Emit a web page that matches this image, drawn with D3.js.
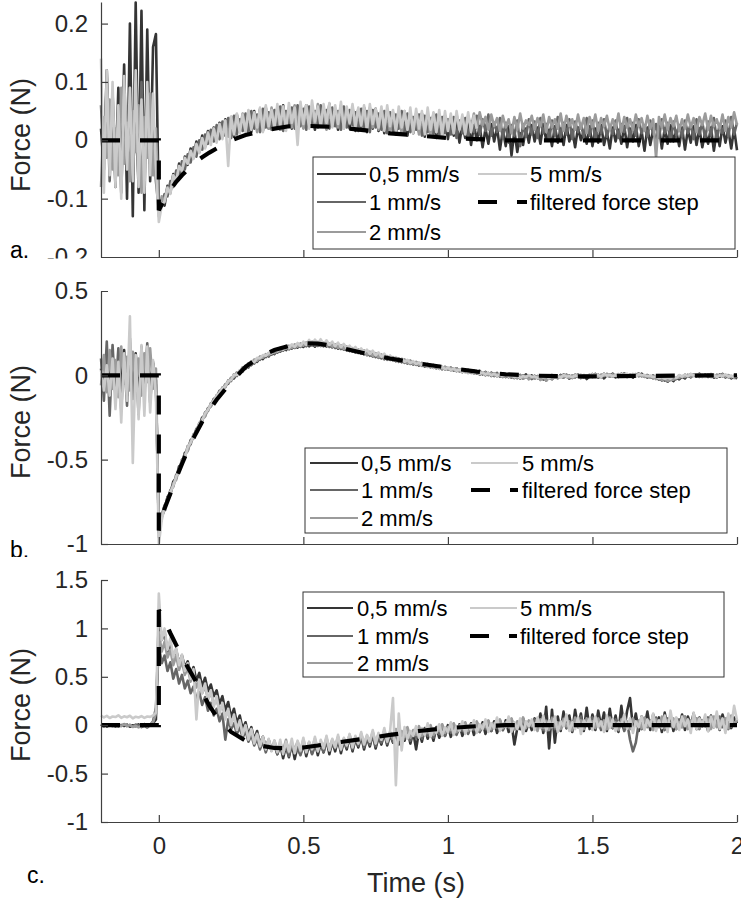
<!DOCTYPE html>
<html><head><meta charset="utf-8">
<script src="https://cdn.jsdelivr.net/npm/d3@7/dist/d3.min.js"></script>
<style>html,body{margin:0;padding:0;background:#fff;} svg{display:block;}</style>
</head><body><svg id="chart" width="741" height="899"></svg>
<script>
// ---------- DATA (forces in mN, sampled every 0.01 s from -0.2 s) ----------
const seriesNames = ["0,5 mm/s", "1 mm/s", "2 mm/s", "5 mm/s"];
const filterName = "filtered force step";
const tStart = -0.2, tStep = 0.01;
const xTicks = [0, 0.5, 1, 1.5, 2];
const xTickLabels = ["0", "0.5", "1", "1.5", "2"];
const yTicksA = [-0.2, -0.1, 0, 0.1, 0.2];
const yTickLabelsA = ["-0.2", "-0.1", "0", "0.1", "0.2"];
const yTicksB = [-1, -0.5, 0, 0.5];
const yTickLabelsB = ["-1", "-0.5", "0", "0.5"];
const yTicksC = [-1, -0.5, 0, 0.5, 1, 1.5];
const yTickLabelsC = ["-1", "-0.5", "0", "0.5", "1", "1.5"];
const panelLetters = ["a.", "b.", "c."];

// Panel a
const a05 = [20,-50,120,-30,60,-80,90,-60,130,-100,200,-130,236,-90,222,-120,190,-70,160,182,
-125,
-100,-112,-78,-90,-58,-72,-40,-56,-28,
-42,-14,-30,-2,-20,8,-10,16,-2,22,
4,30,8,36,12,40,6,44,14,40,
18,48,14,50,22,52,16,56,20,48,
24,56,18,60,26,50,20,58,28,54,
22,60,26,52,18,58,28,56,20,62,
24,54,18,58,26,50,20,56,16,52,
22,56,14,50,20,54,16,48,12,52,
18,46,10,50,16,44,8,48,12,42,
14,46,6,40,12,44,4,38,10,42,
2,36,8,30,-4,28,4,32,-8,26,
0,24,-12,20,-6,28,-2,22,-16,18,
-10,24,-26,16,-20,12,-8,20,-4,26,
-2,22,-6,28,0,18,-10,24,-4,20,
-8,26,-2,18,-12,22,0,16,-6,24,
-10,20,-4,26,-8,14,-14,22,-2,18,
-6,24,-12,20,-2,26,-10,16,-18,22,
-8,18,-4,24,-14,20,-6,26,-2,16,
-10,22,-16,18,-4,24,-8,20,-12,14,
-6,22,-18,16,-10,24,-4,18,-14,20,
-17];
const a1 = [60,-40,100,-70,80,-30,50,-90,70,-20,90,-60,40,-80,100,-50,60,-40,30,-70,
-120,
-108,-92,-96,-70,-80,-52,-64,-36,-50,
-24,-38,-12,-28,0,-16,10,-6,18,-2,
26,2,32,8,38,4,42,10,36,16,
46,12,50,20,44,14,54,22,48,18,
52,24,58,16,50,26,56,20,60,24,
54,18,58,28,50,22,60,26,52,20,
56,24,50,18,58,22,52,26,48,16,
54,20,50,14,52,22,46,18,50,12,
48,16,44,20,50,10,46,14,40,18,
44,8,42,14,38,10,44,6,40,12,
36,10,40,4,34,12,38,6,32,14,
42,10,36,16,44,8,30,14,38,4,
30,-4,26,8,34,-10,28,6,36,10,
32,4,38,12,28,0,34,8,40,6,
30,10,36,2,32,14,28,6,38,8,
34,0,30,12,36,6,26,10,34,4,
28,14,38,2,30,8,36,12,26,6,
34,10,28,4,36,12,30,-2,32,8,
26,6,34,12,28,2,36,10,30,4,
32,8,38,0,28,12,34,6,40,10,
30];
const a2 = [-80,40,-30,70,-50,20,-60,90,-40,30,-70,50,-20,60,-90,40,-30,80,-60,20,
-130,
-96,-106,-80,-86,-60,-70,-44,-54,-34,
-40,-20,-30,-8,-18,2,-12,14,-2,20,
4,28,10,34,6,40,14,38,18,46,
16,50,22,46,14,54,24,50,20,56,
26,52,18,58,28,54,22,60,26,56,
20,60,28,54,24,62,26,56,18,58,
26,54,22,60,20,52,28,56,18,54,
24,50,16,56,22,48,18,52,20,50,
14,48,20,44,12,50,18,42,16,46,
10,44,16,40,8,46,14,38,12,42,
18,40,12,44,20,36,14,42,22,46,
20,48,26,40,18,44,24,38,16,42,
22,36,12,40,18,46,20,34,26,42,
18,38,24,44,14,40,22,36,20,46,
16,42,24,36,18,44,20,38,12,40,
22,44,16,38,24,42,18,36,20,46,
14,40,22,36,18,44,24,38,16,42,
20,36,-30,40,22,44,18,38,24,42,
16,36,20,44,22,38,14,40,26,46,
18,42,24,36,20,44,16,40,22,48,
26];
const a5 = [140,-90,120,-60,100,-80,60,-100,110,-50,90,-70,120,-80,70,-90,100,-60,80,-50,
-140,
-112,-104,-82,-92,-60,-70,-44,-52,-30,
-40,-18,-32,-6,-22,4,-14,12,-8,20,
-4,28,2,34,-44,40,10,46,12,44,
14,52,18,48,22,56,14,60,24,52,
20,62,26,58,16,64,30,56,-8,66,
28,60,20,68,32,58,24,62,30,64,
22,60,28,66,20,58,30,62,24,56,
26,60,18,62,28,54,22,58,16,60,
24,52,14,58,22,50,18,56,12,54,
20,50,10,56,18,48,14,52,8,50,
16,46,12,50,18,44,10,48,14,42,
20];

// Panel b
const b05 = [40,-80,120,-60,90,-110,60,-40,150,-120,80,-70,130,-90,50,-100,110,-60,70,-30,
-930,
-840,-795,-720,-700,-630,-610,-540,-525,-460,
-445,-385,-370,-318,-300,-250,-240,-195,-182,-140,
-132,-92,-90,-55,-50,-16,-18,14,10,44,
38,68,60,90,80,106,96,122,112,136,
126,150,140,162,150,170,158,176,164,182,
168,188,172,190,170,192,174,188,170,186,
166,180,158,174,152,168,144,160,136,150,
128,144,120,136,112,128,104,120,96,110,
92,104,84,98,78,92,70,86,64,78,
58,72,52,66,48,60,42,54,36,50,
34,46,28,42,24,36,20,32,14,28,
10,26,6,20,2,16,-4,14,-8,10,
-10,8,-14,4,-16,2,-20,6,-12,0,
-18,-4,-24,-8,-30,-10,-22,-2,-16,2,
-14,4,-20,-2,-12,6,-16,0,-22,-4,
-10,8,-14,2,-18,4,-8,10,-12,0,
-6,12,-10,4,-14,6,-4,10,-8,2,
-12,0,-20,-8,-30,-16,-38,-20,-34,-14,
-24,-6,-18,2,-12,6,-8,10,-6,4,
-10,6,-14,2,-8,8,-12,0,-18,-6,
-20];
const b1 = [100,-150,200,-240,180,-120,160,-200,120,-180,220,-140,100,-230,170,-110,190,-160,80,-60,
-900,
-830,-770,-745,-680,-660,-590,-570,-500,-485,
-420,-410,-350,-340,-282,-272,-220,-212,-165,-160,
-118,-112,-72,-70,-30,-34,6,-4,28,22,
56,46,80,70,100,92,116,108,130,122,
146,134,158,146,168,154,174,162,180,168,
188,172,194,176,196,174,192,172,190,168,
182,162,176,156,170,148,162,140,154,132,
146,124,138,116,130,108,122,100,114,92,
106,88,100,80,94,74,88,68,80,62,
74,56,68,50,62,44,56,38,50,34,
44,30,40,24,36,18,30,14,26,10,
22,4,18,0,14,-4,12,-6,8,-10,
6,-12,4,-16,2,-20,0,-14,-4,-22,
-2,-18,-8,-26,-4,-20,2,-14,-6,-12,
6,-10,0,-16,4,-8,2,-14,-2,-10,
8,-6,4,-12,10,-4,6,-8,2,-10,
10,-2,4,-8,8,-4,12,-6,0,-14,
-4,-18,-10,-26,-14,-32,-20,-28,-10,-22,
0,-12,4,-8,8,-4,6,-10,2,-8,
4,-10,0,-14,6,-6,2,-12,-4,-16,
-8];
const b2 = [-60,120,-100,150,-80,90,-130,170,-50,110,-90,140,-70,100,-120,130,-40,160,-80,40,
-960,
-820,-800,-725,-710,-640,-620,-550,-530,-470,
-450,-390,-375,-320,-305,-258,-245,-198,-186,-145,
-135,-95,-88,-52,-46,-14,-10,18,20,48,
46,72,66,94,86,112,104,126,118,140,
132,154,144,166,156,176,162,184,170,190,
176,196,180,200,178,198,176,194,174,190,
170,184,162,178,154,170,146,162,138,154,
130,148,122,140,114,132,106,124,98,114,
94,108,86,100,80,94,72,88,66,80,
60,74,54,68,48,62,42,56,38,50,
34,46,30,42,24,36,20,30,16,26,
12,22,8,18,2,14,-2,10,-6,6,
-8,4,-12,2,-16,0,-20,-4,-24,-8,
-20,-4,-28,-10,-32,-14,-24,-6,-18,-2,
-12,4,-16,0,-10,6,-14,2,-8,4,
-6,8,-10,4,-4,10,-8,6,-2,8,
-4,10,-8,6,-2,8,-6,4,-10,0,
-14,-2,-22,-10,-28,-18,-34,-24,-26,-12,
-16,-4,-10,2,-8,6,-4,8,-10,0,
-6,8,-10,4,-4,6,-8,2,-12,-2,
-10];
const b5 = [30,-90,60,-120,100,-200,80,-280,130,-150,350,-520,120,-260,180,-240,170,-220,90,-120,
-1000,
-860,-780,-740,-690,-655,-600,-565,-505,-490,
-425,-400,-355,-335,-285,-268,-225,-205,-170,-150,
-120,-104,-76,-66,-34,-28,4,2,30,30,
58,56,84,78,104,100,120,116,134,130,
150,142,164,152,176,160,184,168,192,174,
200,180,210,184,212,186,214,182,208,180,
200,172,194,166,186,160,176,152,168,142,
160,134,152,126,146,118,136,110,128,104,
118,96,108,88,100,80,92,72,84,66,
76,60,70,52,64,46,58,40,52,36,
46,32,40,26,36,20,30,16,26,12,
22,8,18,4,14,0,10,-4,8,-6,
4,-8,2,-12,0,-16,-4,-12,2,-10,
-6,-16,-2,-12,-8,-18,0,-10,-4,-14,
2,-8,-4,-12,0,-6,4,-10,-2,-8,
6,-4,2,-10,8,-2,4,-6,0,-8,
6,-2,10,-4,4,-8,8,0,2,-6,
-2,-12,-6,-18,-10,-22,-14,-20,-6,-16,
2,-8,4,-6,8,-2,6,-4,0,-10,
2,-6,4,-10,0,-4,6,-8,-2,-12,
-6];

// Panel c
const c05 = [-10,8,-14,4,-6,10,-12,2,-8,6,-16,0,-10,8,-4,12,-8,4,20,60,
1120,
880,960,760,840,700,780,640,720,600,
660,520,600,460,540,400,490,350,420,300,
360,220,300,150,240,80,170,20,100,-40,
30,-100,-20,-150,-60,-190,-120,-230,-150,-260,
-180,-300,-200,-340,-210,-330,-190,-350,-220,-300,
-170,-320,-200,-290,-160,-310,-190,-280,-150,-300,
-170,-270,-140,-290,-160,-250,-120,-270,-140,-230,
-110,-250,-130,-220,-90,-240,-120,-200,-80,-210,
-100,-180,-60,-200,-90,-160,-40,-190,-70,-250,
-60,-170,-30,-140,-50,-160,-20,-130,-60,-110,
0,-120,-30,-90,10,-110,-20,-80,20,-100,
-10,-70,30,-90,0,-60,40,-80,10,-50,
50,-70,20,-200,-30,-40,60,-60,30,-50,
70,-40,120,-80,190,-240,160,-180,90,-60,
140,-30,100,-70,160,-20,120,-60,180,-40,
110,-50,150,-10,130,-60,170,-30,100,-70,
200,-40,150,280,-30,120,-60,90,-20,140,
-50,110,-10,80,-70,130,-30,100,-60,70,
-20,110,-50,90,0,120,-40,80,-10,60,
-60,100,-20,70,-50,110,0,90,-30,80,
20];
const c1 = [6,-12,10,-6,2,-16,8,-4,12,-10,4,-14,6,-2,-20,-8,-24,2,40,180,
820,
640,720,560,650,480,580,430,520,380,
460,330,400,270,340,210,290,150,230,100,
170,40,120,-150,60,-40,20,-90,-20,-130,
-60,-170,-100,-210,-140,-250,-170,-280,-190,-260,
-210,-300,-190,-280,-230,-320,-200,-290,-240,-310,
-210,-290,-180,-300,-220,-270,-190,-280,-160,-260,
-190,-240,-150,-260,-170,-230,-130,-250,-150,-210,
-110,-230,-140,-200,-100,-220,-120,-180,-80,-190,
-90,-170,-60,-150,-100,-140,-40,-160,-70,-130,
-30,-140,-60,-110,-20,-130,-50,-90,0,-110,
-30,-80,10,-100,-20,-60,20,-90,-10,-50,
30,-70,0,-40,40,-60,10,-30,50,-50,
20,-20,60,-40,30,-10,70,-30,40,0,
60,-30,30,-50,50,-20,80,-40,20,-10,
70,-30,40,-60,60,-10,90,-40,30,0,
80,-20,50,-50,40,0,70,-30,60,-10,
40,-60,30,-150,-270,-180,20,-40,60,-20,
50,-30,80,-10,40,-50,70,0,30,-40,
60,-20,90,-30,40,10,70,-40,50,-10,
80,-30,60,0,90,-20,50,-40,70,10,
40];
const c2 = [-4,10,-8,2,-12,6,0,-10,8,-6,2,-18,-6,-22,-10,4,-12,10,30,120,
960,
760,860,700,780,620,720,570,660,520,
590,450,530,390,460,330,400,270,340,210,
270,150,200,90,140,30,80,-20,30,-70,
-10,-120,-50,-160,-90,-200,-120,-230,-150,-250,
-160,-270,-180,-260,-150,-280,-190,-250,-170,-270,
-150,-260,-180,-240,-140,-250,-170,-230,-130,-240,
-150,-220,-120,-230,-140,-200,-100,-210,-120,-180,
-90,-190,-110,-170,-70,-180,-90,-150,-60,-160,
-70,-140,-40,-150,-60,-120,-20,-130,-50,-100,
-10,-110,-40,-80,0,-100,-30,-60,10,-80,
-20,-50,20,-70,0,-40,30,-60,10,-30,
40,-50,10,-20,50,-40,20,-10,60,-30,
30,-20,70,-40,40,0,80,-30,50,-10,
20,-60,60,-30,40,-50,70,-20,30,-40,
60,-10,40,-50,80,-20,50,-40,70,0,
40,-30,70,-10,50,-40,80,-20,30,-50,
60,-20,40,-40,70,0,50,-30,80,-10,
40,-50,60,-20,90,-30,50,-10,70,-40,
30,-20,80,-40,50,0,70,-30,40,-10,
60,-40,90,-20,50,10,70,-30,100,0,
60];
const c5 = [100,80,96,74,90,84,102,76,92,82,98,70,88,80,94,76,90,86,100,130,
1360,
880,1000,780,900,700,800,620,730,560,
640,480,580,60,470,330,430,260,360,190,
300,120,230,60,170,0,110,-50,50,-100,
0,-150,-40,-190,-90,-220,-120,-250,-140,-270,
-160,-280,-150,-300,-170,-270,-140,-290,-160,-260,
-130,-280,-170,-250,-120,-270,-150,-240,-110,-260,
-140,-230,-100,-250,-130,-210,-90,-230,-110,-190,
-70,-200,-100,-170,-50,-190,-80,-150,-30,-170,
-60,280,-620,120,-260,-20,-140,-60,-110,-10,
-130,-30,-100,20,-120,-40,-80,10,-110,-20,
-70,30,-100,-10,-60,40,-90,0,-50,50,
-80,10,-40,60,-70,20,-30,80,-60,0,
-20,90,-70,30,-40,70,-90,40,-10,60,
-50,80,-30,100,-60,50,-20,90,-70,40,
-10,110,-60,30,-40,80,-90,50,0,70,
-50,90,-20,40,-70,100,-30,60,-60,30,
0,110,-40,70,-80,40,-20,90,-50,60,
-10,120,-60,50,-30,100,-70,150,-20,80,
-50,90,-10,60,-80,130,-40,70,0,110,
-60,90,-20,140,-40,70,-80,120,-10,200,
50];

// Filtered force step (mN)
const filtTime = [-0.2,0,0,0.02,0.04,0.06,0.08,0.1,0.125,0.15,0.175,0.2,0.25,0.3,0.35,0.4,0.45,0.5,0.55,0.6,0.7,0.8,0.9,1.0,1.1,1.2,1.3,1.4,1.5,1.6,1.7,1.8,1.9,2.0];
const filtA = [0,0,-120,-100,-85,-71,-60,-50,-38,-29,-21,-14,0,9,15,20,24,25,24,23,18,12,8,4,2,0,0,0,0,0,0,0,0,0];
const filtB = [0,0,-920,-790,-700,-610,-525,-445,-355,-275,-205,-145,-40,50,110,150,175,190,188,175,135,100,70,45,22,6,-2,-6,-6,-5,-3,-2,0,0];
const filtC = [0,0,1190,1080,950,830,710,600,470,340,200,90,-70,-160,-210,-235,-240,-230,-210,-185,-145,-100,-60,-30,-10,0,0,0,0,0,0,0,0,0];

// ---------- STYLE / LAYOUT ----------
const seriesColors = ["#353535", "#666666", "#9b9b9b", "#cacaca"];
const FONT = "'Liberation Sans', Arial, Helvetica, sans-serif";
const TXT = "#262626";
const AX = "#404040";

const panels = [
  { series: [a05, a1, a2, a5], filt: filtA, yDomain: [-0.2, 0.237], yRange: [257, 2],
    yTicks: yTicksA, yLabels: yTickLabelsA, showX: false, band: [0, 258.5],
    ylabY: 135, letter: { x: 10, y: 258 },
    legend: { x: 313, y: 157, w: 422, h: 92, rows: [174, 202, 232], c1: [317, 366, 369], c2: [478, 527, 530] } },
  { series: [b05, b1, b2, b5], filt: filtB, yDomain: [-1, 0.5], yRange: [544, 291],
    yTicks: yTicksB, yLabels: yTickLabelsB, showX: false, band: [258.5, 557],
    ylabY: 422, letter: { x: 10, y: 558 },
    legend: { x: 305, y: 448, w: 422, h: 85, rows: [463, 490, 518], c1: [310, 358, 361], c2: [471, 518, 522] } },
  { series: [c05, c1, c2, c5], filt: filtC, yDomain: [-1, 1.5], yRange: [822, 580],
    yTicks: yTicksC, yLabels: yTickLabelsC, showX: true, band: [557, 899],
    ylabY: 705, letter: { x: 27, y: 883 },
    legend: { x: 303, y: 592, w: 421, h: 85, rows: [608, 636, 663], c1: [307, 353, 357], c2: [470, 517, 520] } }
];

const svg = d3.select("#chart");
svg.append("rect").attr("width", 741).attr("height", 899).attr("fill", "#fff");
const x = d3.scaleLinear().domain([-0.2, 2]).range([101, 737]);
const defs = svg.append("defs");

panels.forEach((p, pi) => {
  defs.append("clipPath").attr("id", "band" + pi).append("rect")
    .attr("x", 0).attr("y", p.band[0]).attr("width", 741).attr("height", p.band[1] - p.band[0]);
  const g = svg.append("g").attr("clip-path", `url(#band${pi})`);
  const y = d3.scaleLinear().domain(p.yDomain).range(p.yRange);

  const line = d3.line()
    .x((d, i) => x(tStart + i * tStep))
    .y(d => y(d / 1000));
  p.series.forEach((s, si) => {
    g.append("path").datum(s).attr("d", line)
      .attr("fill", "none").attr("stroke", seriesColors[si])
      .attr("stroke-width", 2.6).attr("stroke-linejoin", "round");
  });
  const fline = d3.line().x((d, i) => x(filtTime[i])).y(d => y(d / 1000));
  g.append("path").datum(p.filt).attr("d", fline)
    .attr("fill", "none").attr("stroke", "#000").attr("stroke-width", 4.2)
    .attr("stroke-dasharray", "19,20");

  // axes
  const yAxis = d3.axisLeft(y).tickValues(p.yTicks)
    .tickFormat((d, i) => p.yLabels[i]).tickSize(-7).tickSizeOuter(0).tickPadding(13);
  const ya = g.append("g").attr("transform", `translate(${x(-0.2)},0)`).call(yAxis);
  const xAxis = d3.axisBottom(x).tickValues(xTicks)
    .tickFormat((d, i) => p.showX ? xTickLabels[i] : "").tickSize(-7).tickSizeOuter(0).tickPadding(15);
  const xa = g.append("g").attr("transform", `translate(0,${p.yRange[0]})`).call(xAxis);
  [ya, xa].forEach(a => {
    a.attr("font-family", FONT).attr("font-size", 24);
    a.selectAll("path,line").attr("stroke", AX).attr("stroke-width", 1.2);
    a.selectAll("text").attr("fill", TXT);
  });

  g.append("text").attr("transform", `translate(30,${p.ylabY}) rotate(-90)`)
    .attr("text-anchor", "middle").attr("font-family", FONT).attr("font-size", 27)
    .attr("fill", TXT).text("Force (N)");
  g.append("text").attr("x", p.letter.x).attr("y", p.letter.y)
    .attr("font-family", FONT).attr("font-size", 23).attr("fill", "#000").text(panelLetters[pi]);

  // legend
  const L = p.legend;
  const lg = g.append("g");
  lg.append("rect").attr("x", L.x).attr("y", L.y).attr("width", L.w).attr("height", L.h)
    .attr("fill", "#fff").attr("stroke", "#333").attr("stroke-width", 1);
  const entries = [
    { name: seriesNames[0], col: L.c1, row: 0, color: seriesColors[0] },
    { name: seriesNames[1], col: L.c1, row: 1, color: seriesColors[1] },
    { name: seriesNames[2], col: L.c1, row: 2, color: seriesColors[2] },
    { name: seriesNames[3], col: L.c2, row: 0, color: seriesColors[3] },
    { name: filterName, col: L.c2, row: 1, color: "#000", dashed: true }
  ];
  entries.forEach(e => {
    const yy = L.rows[e.row];
    const ln = lg.append("line").attr("x1", e.col[0]).attr("x2", e.col[1])
      .attr("y1", yy).attr("y2", yy).attr("stroke", e.color)
      .attr("stroke-width", e.dashed ? 4 : 2);
    if (e.dashed) ln.attr("stroke-dasharray", "19,20");
    lg.append("text").attr("x", e.col[2]).attr("y", yy + 8)
      .attr("font-family", FONT).attr("font-size", 22).attr("fill", "#000").text(e.name);
  });

  if (p.showX) {
    g.append("text").attr("x", 416).attr("y", 892).attr("text-anchor", "middle")
      .attr("font-family", FONT).attr("font-size", 27).attr("fill", TXT).text("Time (s)");
  }
});
</script>
</body></html>
